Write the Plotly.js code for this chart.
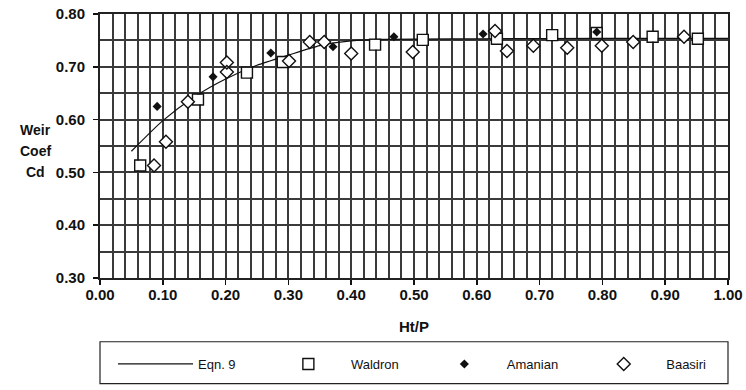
<!DOCTYPE html>
<html>
<head>
<meta charset="utf-8">
<script src="https://cdn.plot.ly/plotly-3.0.1.min.js"></script>
<style>html,body{margin:0;padding:0;background:#fff;}#chart{width:746px;height:390px;}</style>
</head>
<body>
<div id="chart"></div>
<script>
// Eqn. 9 curve
const eqnX = [0.05, 0.10, 0.15, 0.20, 0.25, 0.30, 0.35, 0.40, 0.45, 0.60, 0.80, 1.00];
const eqnY = [0.540, 0.598, 0.643, 0.677, 0.703, 0.722, 0.740, 0.749, 0.752, 0.753, 0.754, 0.754];
// Waldron (open squares)
const waldronX = [0.064, 0.156, 0.234, 0.291, 0.438, 0.514, 0.632, 0.720, 0.791, 0.880, 0.952];
const waldronY = [0.513, 0.638, 0.689, 0.709, 0.742, 0.751, 0.753, 0.760, 0.764, 0.757, 0.753];
// Amanian (filled diamonds)
const amanianX = [0.091, 0.180, 0.272, 0.371, 0.468, 0.610, 0.791];
const amanianY = [0.625, 0.681, 0.726, 0.738, 0.757, 0.762, 0.766];
// Baasiri (open diamonds)
const baasiriX = [0.086, 0.105, 0.140, 0.202, 0.202, 0.301, 0.334, 0.357, 0.400, 0.498, 0.629, 0.648, 0.690, 0.744, 0.799, 0.849, 0.930];
const baasiriY = [0.513, 0.558, 0.634, 0.690, 0.708, 0.711, 0.747, 0.747, 0.725, 0.728, 0.768, 0.730, 0.740, 0.736, 0.740, 0.747, 0.757];
const xTicks = [0.0, 0.1, 0.2, 0.3, 0.4, 0.5, 0.6, 0.7, 0.8, 0.9, 1.0];
const yTicks = [0.30, 0.40, 0.50, 0.60, 0.70, 0.80];
const yLabelLines = ['Weir', 'Coef', 'Cd'];

const nb = '\u00a0';
const pad = n => nb.repeat(n);

// grid positions (exact values so minor and major grids coincide)
const xMinor = [];
for (let i = 0; i <= 50; i++) xMinor.push(Math.round(i * 2) / 100);
const yMinor = [];
for (let i = 0; i <= 10; i++) yMinor.push(Math.round(30 + i * 5) / 100);

const traces = [
  {x: eqnX, y: eqnY, mode: 'lines', name: 'Eqn. 9' + pad(7), line: {color: '#111', width: 1.2, shape: 'spline', smoothing: 0.6}},
  {x: waldronX, y: waldronY, mode: 'markers', showlegend: false, hoverinfo: 'skip',
   marker: {symbol: 'square', size: 10, color: '#fff'}},
  {x: waldronX, y: waldronY, mode: 'markers', name: 'Waldron' + pad(5),
   marker: {symbol: 'square-open', size: 11, color: '#111', line: {width: 1.4}}},
  {x: amanianX, y: amanianY, mode: 'markers', name: 'Amanian' + pad(5),
   marker: {symbol: 'diamond', size: 7, color: '#111'}},
  {x: baasiriX, y: baasiriY, mode: 'markers', showlegend: false, hoverinfo: 'skip',
   marker: {symbol: 'diamond', size: 9, color: '#fff'}},
  {x: baasiriX, y: baasiriY, mode: 'markers', name: 'Baasiri',
   marker: {symbol: 'diamond-open', size: 10, color: '#111', line: {width: 1.4}}}
];

const tickFont = {family: 'Liberation Sans, Arial, sans-serif', size: 15, color: '#111', weight: 'bold'};
const P = (px) => (px - 100) / 628;          // paper x from pixel
const Q = (py) => (279 - py) / 265;          // paper y from pixel

const gridC = '#3a3a3a';
const layout = {
  width: 746, height: 390,
  margin: {l: 100, r: 18, t: 14, b: 111},
  paper_bgcolor: '#fff', plot_bgcolor: '#fff',
  showlegend: true,
  xaxis: {
    range: [0, 1], tickvals: xTicks, ticktext: xTicks.map(v => v.toFixed(2)),
    ticks: 'outside', ticklen: 5, tickcolor: '#111', tickwidth: 1.5,
    showline: true, linecolor: '#222', linewidth: 2, mirror: true,
    showgrid: true, gridcolor: gridC, gridwidth: 2,
    minor: {tickmode: 'array', tickvals: xMinor, showgrid: true, gridcolor: gridC, gridwidth: 2},
    tickfont: tickFont, ticklabelstandoff: -3,
    zeroline: false,
    title: {text: 'Ht/P', font: {family: 'Liberation Sans, Arial, sans-serif', size: 15, color: '#111', weight: 'bold'}, standoff: 19}
  },
  yaxis: {
    range: [0.30, 0.80], tickvals: yTicks, ticktext: yTicks.map(v => v.toFixed(2)),
    ticks: 'outside', ticklen: 5, tickcolor: '#111', tickwidth: 1.5,
    showline: true, linecolor: '#222', linewidth: 2, mirror: true,
    showgrid: true, gridcolor: gridC, gridwidth: 2,
    minor: {tickmode: 'array', tickvals: yMinor, showgrid: true, gridcolor: gridC, gridwidth: 2},
    tickfont: tickFont, ticklabelstandoff: 5,
    zeroline: false
  },
  legend: {
    orientation: 'h', x: P(113), xanchor: 'left', y: Q(364), yanchor: 'middle',
    bgcolor: 'rgba(0,0,0,0)', borderwidth: 0, itemwidth: 75,
    font: {family: 'Liberation Sans, Arial, sans-serif', size: 13, color: '#111'},
    traceorder: 'normal'
  },
  shapes: [
    {type: 'rect', xref: 'paper', yref: 'paper', x0: 0, x1: 1, y0: Q(385), y1: Q(343),
     line: {color: '#222', width: 1.2}, fillcolor: 'rgba(0,0,0,0)', layer: 'above'}
  ],
  annotations: yLabelLines.map((t, i) => ({
    text: t, xref: 'paper', yref: 'paper', x: P(35), y: Q(130 + i * 21.5),
    xanchor: 'center', yanchor: 'middle', showarrow: false,
    font: {family: 'Liberation Sans, Arial, sans-serif', size: 14, color: '#111', weight: 'bold'}
  }))
};

Plotly.newPlot('chart', traces, layout, {displayModeBar: false, staticPlot: true});
</script>
</body>
</html>
